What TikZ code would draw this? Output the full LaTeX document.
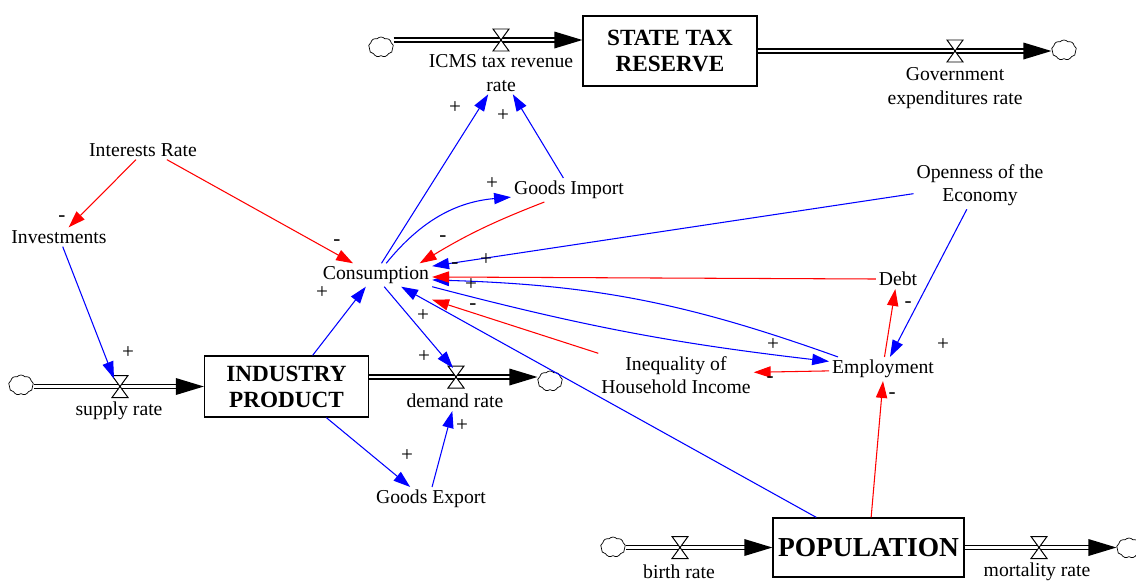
\documentclass[tikz,border=0pt]{standalone}
\usepackage{fontspec}
\setmainfont{Liberation Serif}
\usepackage{tikz}
\usetikzlibrary{arrows.meta,calc,positioning,shapes.symbols}
\tikzset{
  var/.style={font=\fontsize{14}{16.5}\selectfont,align=center,inner sep=2pt},
  stock/.style={draw,line width=0.9pt,align=center,inner sep=0pt,font=\bfseries\fontsize{16.5}{18.5}\selectfont},
  plink/.style={blue,line width=0.75pt,-{Triangle[length=12pt,width=8pt]}},
  nlink/.style={plink,red},
  sgn/.style={font=\fontsize{15}{15}\selectfont,inner sep=0pt},
  pipe/.style={double,double distance=1.8pt,line width=1pt},
  source/.style={cloud,cloud puffs=9,cloud puff arc=100,draw,line width=0.5pt,fill=white,minimum width=0.62cm,minimum height=0.5cm,inner sep=0pt},
  valve/.pic={\draw[line width=0.7pt,fill=white] (-8,-11) -- (8,-11) -- (-8,11) -- (8,11) -- cycle;}
}
\newcommand\flowtip[1]{\fill (#1) -- ++(-28,-8.5) -- ++(0,17) -- cycle;}

\begin{document}
\begin{tikzpicture}[x=0.025cm,y=-0.025cm]
\useasboundingbox (0,0) rectangle (1136,581);
\node[stock,minimum width=4.35cm,minimum height=1.75cm] (tax) at (670,51) {STATE TAX\\RESERVE};
\node[stock,minimum width=4.1cm,minimum height=1.525cm] (ind) at (286.5,386.5) {INDUSTRY\\PRODUCT};
\node[stock,minimum width=4.775cm,minimum height=1.475cm,font=\bfseries\fontsize{19.5}{22}\selectfont] (pop) at (868.5,547.5) {POPULATION};

\node[source] (c1) at (381,47) {};
\coordinate (t1) at ($(tax.west)+(0,-11)$);
\draw[pipe] (c1.east |- t1) -- ($(t1)+(-20,0)$);
\flowtip{t1}
\pic at (501,40) {valve};
\node[var] (icms) at (501,73) {ICMS tax revenue\\rate};

\node[source] (c2) at (1064,50) {};
\coordinate (t2) at (c2.west |- tax.east);
\draw[pipe] (tax.east) -- ($(t2)+(-20,0)$);
\flowtip{t2}
\pic at (955,51) {valve};
\node[var] (gexr) at (955,88) {Government\\expenditures rate};

\node[source] (c3) at (21,385) {};
\coordinate (sv) at (120,386.5);
\draw[pipe] (c3.east |- ind.west) -- ($(ind.west)+(-20,0)$);
\flowtip{ind.west}
\pic at (sv) {valve};
\node[var] (supply) at (119,411) {supply rate};

\coordinate (d1) at ($(ind.east)+(0,-9.5)$);
\node[source] (c4) at (550,381) {};
\coordinate (d2) at (c4.west |- d1);
\coordinate (dv) at (456,377);
\draw[pipe] (d1) -- ($(d2)+(-20,0)$);
\flowtip{d2}
\pic at (dv) {valve};
\node[var] (drate) at (455,401) {demand rate};

\node[source] (c5) at (613,547) {};
\coordinate (bv) at (680,547.5);
\draw[pipe] (c5.east |- pop.west) -- ($(pop.west)+(-20,0)$);
\flowtip{pop.west}
\pic at (bv) {valve};
\node[var] (birth) at (679,571.5) {birth rate};

\node[source] (c6) at (1129,548) {};
\coordinate (m2) at (c6.west |- pop.east);
\draw[pipe] (pop.east) -- ($(m2)+(-20,0)$);
\flowtip{m2}
\pic at (1039,547.5) {valve};
\node[var] (mort) at (1037,571.5) {mortality rate};

\node[var] (ir) at (143,150) {Interests Rate};
\node[var] (inv) at (59,237) {Investments};
\node[var] (cons) at (376,275) {Consumption};
\node[var] (gi) at (569,190) {Goods Import};
\node[var] (open) at (980,185.5) {Openness of the\\Economy};
\node[var] (debt) at (898,279) {Debt};
\node[var] (emp) at (883,369) {Employment};
\node[var] (ineq) at (676,375) {Inequality of\\Household Income};
\node[var] (gexp) at (431,499) {Goods Export};

\draw[nlink] (ir.-126) -- (inv.45);
\draw[nlink] (ir.-22) -- (cons.153);
\draw[plink] (inv.-69) -- ($(sv)+(-6,-8)$);
\draw[plink] (ind.50) -- (cons.-131);
\draw[plink] (cons.65) -- (icms.-121);
\draw[plink] (gi.115) -- (icms.-61);
\draw[plink] (cons.49) to[bend left=23] (gi.187);
\draw[nlink] (gi.206) to[bend right=5] (cons.15);
\draw[plink] (open.187) -- (cons.9);
\draw[plink] (emp.165) to[bend right=9] (cons.-5);
\draw[nlink] (debt.west) -- (cons.-2);
\draw[plink] (cons.south east) to[bend right=4] (emp.172);
\draw[nlink] (ineq.north west) -- ($(cons.south east)+(0,13)$);
\draw[plink] (cons.-55) -- ($(dv)+(-3,-9)$);
\draw[plink] (pop.150) -- (cons.-25);
\draw[plink] (ind.-38) -- (gexp.150);
\draw[plink] (gexp.85) -- (drate.-105);
\draw[plink] (open.241) -- (emp.60);
\draw[nlink] (emp.83) -- (debt.-105);
\draw[nlink] (emp.182) -- (ineq.2);
\draw[nlink] (pop.85) -- (emp.south);

\foreach \t/\x/\y [count=\i] in {-/62/219,-/337/243,+/128/353,+/322/293,+/455/108,+/503/116,+/492/184,-/443/239,+/486/260,-/455/266,+/471/285,-/473/307,+/423/316,+/424/357,+/407/456,+/462/426,+/773/345,-/770/380,+/943/345,-/908/305,-/892/396}
  \node[sgn] (sg\i) at (\x,\y) {\t};
\end{tikzpicture}
\end{document}
